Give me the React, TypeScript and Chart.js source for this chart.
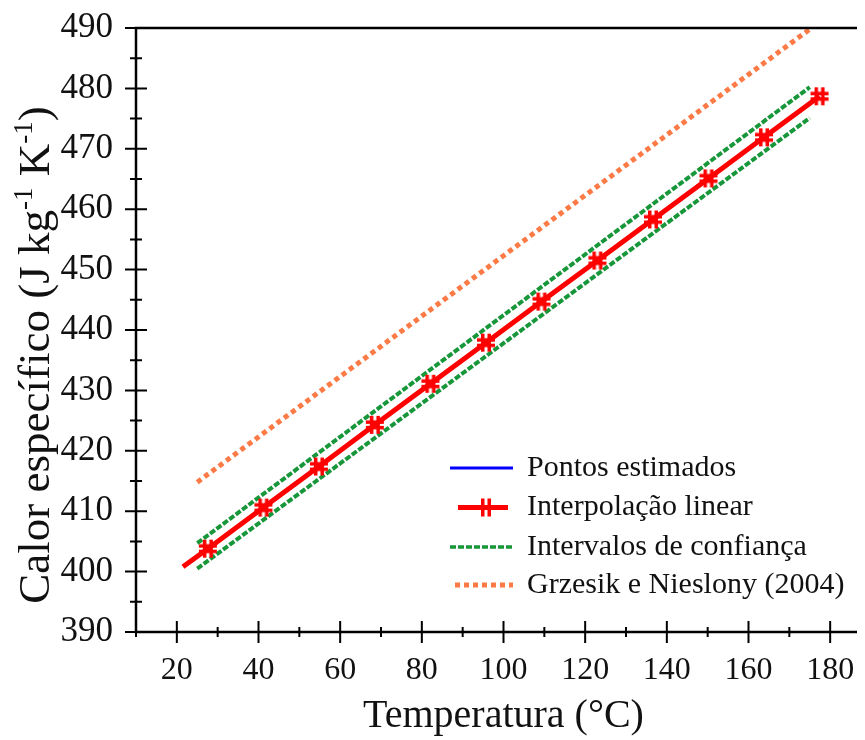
import React, { useEffect, useRef } from 'react';
import { Chart, registerables } from 'chart.js';

Chart.register(...registerables);

// ---- data ----
const tempInterp = [21.5, 27.6, 41.2, 54.8, 68.5, 82.1, 95.7, 109.3, 123.0, 136.6, 150.2, 163.8, 177.4];
const cpInterp = [400.8, 403.8, 410.6, 417.4, 424.3, 431.1, 437.9, 444.7, 451.5, 458.3, 465.1, 471.9, 478.7];
const tempEst = [25, 50, 75, 100, 125, 150, 175];
const cpEst = [402.5, 415.0, 427.5, 440.0, 452.5, 465.0, 477.5];
const tempCI = [25, 175];
const cpCIUpper = [404.7, 480.2];
const cpCILower = [400.5, 475.1];
const tempGN = [25, 175];
const cpGN = [414.8, 489.8];
const xMajorTicks = [20, 40, 60, 80, 100, 120, 140, 160, 180];
const yMajorTicks = [390, 400, 410, 420, 430, 440, 450, 460, 470, 480, 490];
const legendLabels = [
  'Pontos estimados',
  'Interpolação linear',
  'Intervalos de confiança',
  'Grzesik e Nieslony (2004)',
];

const SERIF = "'Liberation Serif', 'Times New Roman', serif";
const BLUE = '#0000ff';
const RED = '#ff0000';
const GREEN = '#17963a';
const ORANGE = '#fb7a45';

function toXY(xs: number[], ys: number[]) {
  return xs.map((x, i) => ({ x, y: ys[i] }));
}

function makeMarker(): HTMLCanvasElement {
  const c = document.createElement('canvas');
  c.width = 20;
  c.height = 20;
  const g = c.getContext('2d')!;
  g.fillStyle = RED;
  g.fillRect(5, 1, 3.5, 18);
  g.fillRect(11.5, 1, 3.5, 18);
  g.fillRect(1, 5.5, 18, 3.5);
  g.fillRect(1, 11, 18, 3.5);
  return c;
}

export default function App() {
  const ref = useRef<HTMLCanvasElement | null>(null);

  useEffect(() => {
    const canvas = ref.current;
    if (!canvas) return;
    const marker = makeMarker();

    const framePlugin = {
      id: 'frameTicks',
      afterDatasetsDraw(chart: any) {
        const { ctx, chartArea: a, scales } = chart;
        const xs = scales.x;
        const ys = scales.y;
        ctx.save();
        ctx.strokeStyle = '#000';
        ctx.lineWidth = 2.5;
        ctx.beginPath();
        ctx.rect(a.left, a.top, a.right - a.left, a.bottom - a.top);
        ctx.stroke();
        ctx.lineWidth = 2;
        ctx.beginPath();
        for (let v = 10; v <= 190; v += 10) {
          const px = xs.getPixelForValue(v);
          const major = xMajorTicks.includes(v);
          const len = major ? 11 : 5;
          ctx.moveTo(px, a.bottom - len);
          ctx.lineTo(px, a.bottom + len);
        }
        for (let v = 390; v <= 490; v += 5) {
          const py = ys.getPixelForValue(v);
          const major = yMajorTicks.includes(v);
          const len = major ? 11 : 6;
          ctx.moveTo(a.left - len, py);
          ctx.lineTo(a.left + len, py);
        }
        ctx.stroke();
        ctx.restore();
      },
      afterDraw(chart: any) {
        const { ctx } = chart;
        const segs = [
          { t: 'Calor específico (J kg', s: false },
          { t: '-1', s: true },
          { t: ' K', s: false },
          { t: '-1', s: true },
          { t: ')', s: false },
        ];
        const mainFont = `45px ${SERIF}`;
        const supFont = `27px ${SERIF}`;
        ctx.save();
        let total = 0;
        const widths = segs.map((sg) => {
          ctx.font = sg.s ? supFont : mainFont;
          const w = ctx.measureText(sg.t).width;
          total += w;
          return w;
        });
        ctx.translate(29, 347);
        ctx.rotate(-Math.PI / 2);
        ctx.fillStyle = '#111';
        ctx.textBaseline = 'middle';
        ctx.textAlign = 'left';
        let x = -total / 2;
        segs.forEach((sg, i) => {
          ctx.font = sg.s ? supFont : mainFont;
          ctx.fillText(sg.t, x, sg.s ? -12 : 0);
          x += widths[i];
        });
        ctx.restore();

        const ds = chart.data.datasets;
        const rows = [460, 499.5, 539, 577];
        const x0 = 442;
        const x1 = 505;
        const tx = 519;
        ctx.save();
        ctx.font = `30px ${SERIF}`;
        ctx.textBaseline = 'middle';
        ctx.fillStyle = '#111';
        const order = [0, 1, 2, 4];
        order.forEach((di, r) => {
          const d = ds[di];
          const y = rows[r];
          ctx.save();
          ctx.strokeStyle = d.borderColor;
          ctx.lineWidth = di === 2 ? 3.5 : d.borderWidth;
          ctx.setLineDash(d.borderDash || []);
          ctx.beginPath();
          if (di === 1) {
            ctx.moveTo(x0 + 8, y);
            ctx.lineTo(x1 - 5, y);
          } else if (di === 4) {
            ctx.moveTo(x0 + 5, y);
            ctx.lineTo(x1, y);
          } else {
            ctx.moveTo(x0, y);
            ctx.lineTo(x1, y);
          }
          ctx.stroke();
          ctx.restore();
          if (di === 1) {
            ctx.fillStyle = RED;
            ctx.fillRect(x0 + 31, y - 9, 3.5, 18);
            ctx.fillRect(x0 + 37.5, y - 9, 3.5, 18);
            ctx.fillStyle = '#111';
          }
          ctx.fillText(legendLabels[r], tx, y);
        });
        ctx.restore();
      },
    };

    const chart = new Chart(canvas, {
      type: 'scatter',
      data: {
        datasets: [
          {
            label: legendLabels[0],
            data: toXY(tempEst, cpEst),
            showLine: true,
            borderColor: BLUE,
            backgroundColor: BLUE,
            borderWidth: 3,
            pointRadius: 0,
            order: 3,
          },
          {
            label: legendLabels[1],
            data: toXY(tempInterp, cpInterp),
            showLine: true,
            borderColor: RED,
            backgroundColor: RED,
            borderWidth: 5,
            pointStyle: marker as any,
            pointRadius: (c: any) => (c.dataIndex === 0 ? 0 : 8),
            order: 1,
          },
          {
            label: legendLabels[2],
            data: toXY(tempCI, cpCIUpper),
            showLine: true,
            borderColor: GREEN,
            backgroundColor: GREEN,
            borderWidth: 4,
            borderDash: [6, 2],
            pointRadius: 0,
            order: 4,
          },
          {
            label: legendLabels[2] + ' (inferior)',
            data: toXY(tempCI, cpCILower),
            showLine: true,
            borderColor: GREEN,
            backgroundColor: GREEN,
            borderWidth: 4,
            borderDash: [6, 2],
            pointRadius: 0,
            order: 4,
          },
          {
            label: legendLabels[3],
            data: toXY(tempGN, cpGN),
            showLine: true,
            borderColor: ORANGE,
            backgroundColor: ORANGE,
            borderWidth: 5,
            borderDash: [5, 4],
            pointRadius: 0,
            order: 5,
          },
        ],
      },
      options: {
        animation: false,
        responsive: false,
        devicePixelRatio: 1,
        layout: { autoPadding: false, padding: { top: 20, right: 17, bottom: 0, left: 0 } },
        plugins: { legend: { display: false }, tooltip: { enabled: false } },
        scales: {
          x: {
            type: 'linear',
            min: 10,
            max: 190,
            grid: { display: false, drawTicks: false },
            border: { display: false },
            ticks: {
              stepSize: 10,
              autoSkip: false,
              maxRotation: 0,
              padding: 19,
              color: '#111',
              font: { family: SERIF, size: 32 },
              callback: (v: any) => (xMajorTicks.includes(Number(v)) ? String(v) : ''),
            },
            title: {
              display: true,
              text: 'Temperatura (°C)',
              color: '#111',
              font: { family: SERIF, size: 40 },
              padding: { top: 0, bottom: 0 },
            },
            afterFit: (s: any) => {
              s.height = 108;
              s.paddingLeft = 0;
              s.paddingRight = 0;
              s.paddingTop = 0;
              s.paddingBottom = 0;
            },
          },
          y: {
            type: 'linear',
            min: 390,
            max: 490,
            grid: { display: false, drawTicks: false },
            border: { display: false },
            ticks: {
              stepSize: 10,
              autoSkip: false,
              padding: 23,
              color: '#111',
              font: { family: SERIF, size: 35 },
            },
            afterFit: (s: any) => {
              s.width = 128;
              s.paddingLeft = 0;
              s.paddingRight = 0;
              s.paddingTop = 0;
              s.paddingBottom = 0;
            },
          },
        },
      },
      plugins: [framePlugin],
    } as any);

    return () => chart.destroy();
  }, []);

  return (
    <div style={{ width: 857, height: 732, overflow: 'hidden', background: '#fff' }}>
      <canvas ref={ref} width={880} height={732} style={{ display: 'block', width: 880, height: 732 }} />
    </div>
  );
}
